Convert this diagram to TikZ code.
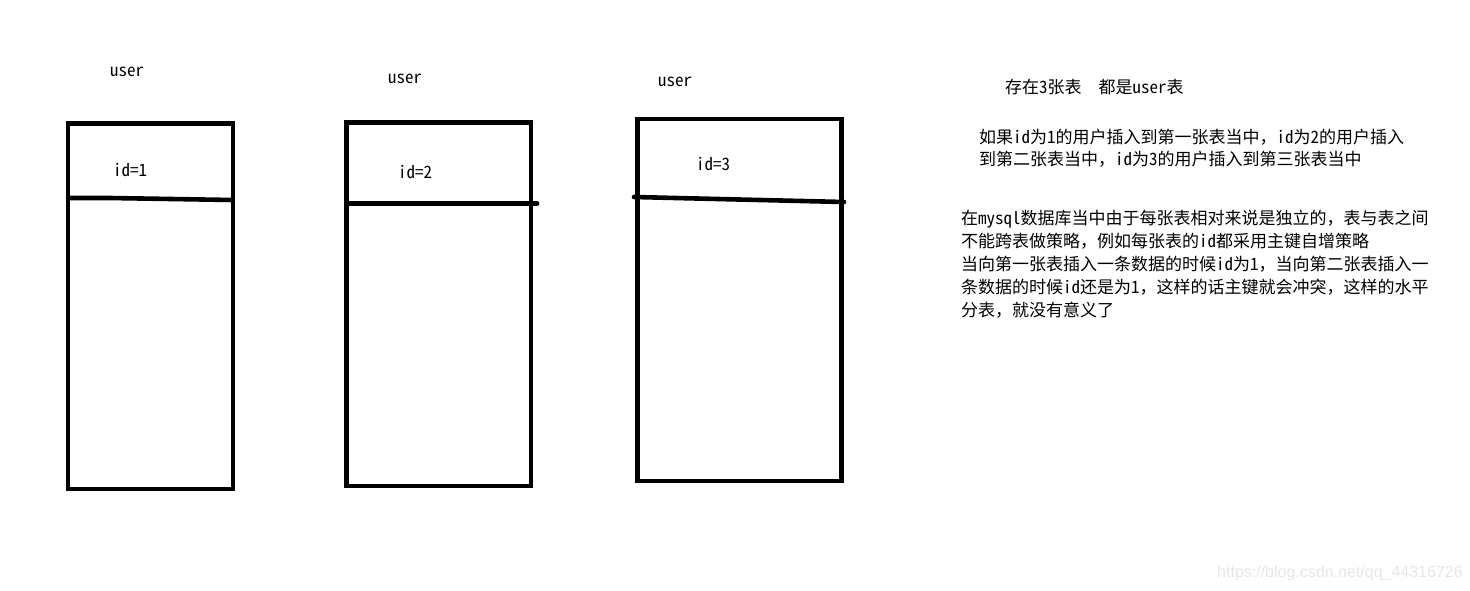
\documentclass[tikz,border=0pt]{standalone}
\usepackage{fontspec}
\setmainfont{Noto Sans CJK SC}[RawFeature=+hwid]
\newfontfamily\cjkfw{Noto Sans CJK SC}
\newcommand{\fwc}{{\cjkfw ，}}
\newfontfamily\wmfont{Liberation Sans}
\definecolor{wmgray}{HTML}{E6E6E6}
\begin{document}
\begin{tikzpicture}[x=1pt,y=-1pt,
  tbl/.style={line width=4.6pt, line join=miter},
  divider/.style={line width=4.6pt, line cap=round},
  lbl/.style={font=\fontsize{17}{23}\selectfont, inner sep=0pt, anchor=base west},
  wm/.style={font=\wmfont\fontsize{16}{18}\selectfont, text=wmgray, inner sep=0pt, anchor=base west}]
\useasboundingbox (0,0) rectangle (1470,590);
% tables
\draw[tbl] (68,123.5) rectangle (233,489);
\coordinate (d1a) at (68,198);
\coordinate (d1b) at (233,200);
\draw[tbl] (d1a) -- (110,198) -- (d1b);
\draw[tbl] (346.5,122.5) rectangle (531,486);
\coordinate (d2a) at (346.5,203.5);
\coordinate (d2b) at (537,203.5);
\draw[divider] (d2a) -- (d2b);
\draw[tbl] (637.5,119) rectangle (841.5,481);
\coordinate (d3a) at (634,197);
\coordinate (d3b) at (844,202);
\draw[divider] (d3a) -- (d3b);
% labels
\node[lbl] (u1) at (110,76.5) {user};
\node[lbl] (u2) at (388,83.5) {user};
\node[lbl] (u3) at (658,86) {user};
\node[lbl] (i1) at (113,176.5) {id=1};
\node[lbl] (i2) at (398,178) {id=2};
\node[lbl] (i3) at (696,170.5) {id=3};
% text
\node[lbl] (t0) at (1005,93) {存在3张表\hspace{17pt}都是user表};
\node[lbl] (t1) at (979,143) {如果id为1的用户插入到第一张表当中\fwc id为2的用户插入};
\node[lbl] (t2) at (979,165.5) {到第二张表当中\fwc id为3的用户插入到第三张表当中};
\node[lbl] (p1) at (961,224.5) {在mysql数据库当中由于每张表相对来说是独立的\fwc 表与表之间};
\node[lbl] (p2) at (961,247.5) {不能跨表做策略\fwc 例如每张表的id都采用主键自增策略};
\node[lbl] (p3) at (961,270.5) {当向第一张表插入一条数据的时候id为1\fwc 当向第二张表插入一};
\node[lbl] (p4) at (961,293.5) {条数据的时候id还是为1\fwc 这样的话主键就会冲突\fwc 这样的水平};
\node[lbl] (p5) at (961,316) {分表\fwc 就没有意义了};
\node[wm] (w) at (1217,577) {https://blog.csdn.net/qq\_44316726};
\end{tikzpicture}
\end{document}
